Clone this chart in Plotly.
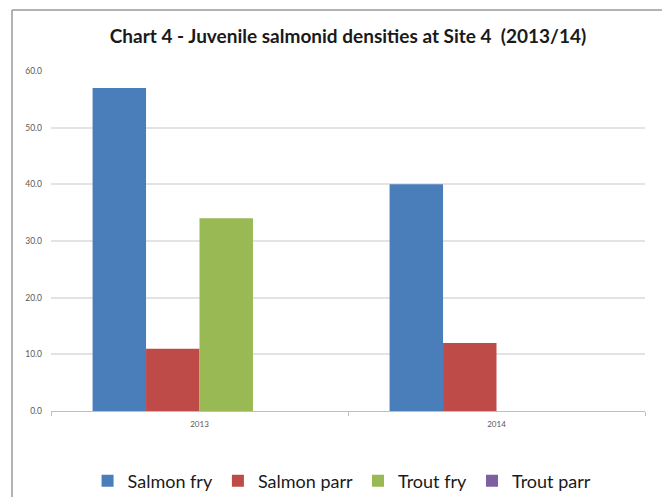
import plotly.graph_objects as go

# Survey years and juvenile densities per group
years = ["2013", "2014"]
salmon_fry = [57.0, 40.0]
salmon_parr = [11.0, 12.0]
trout_fry = [34.0, 0.0]
trout_parr = [0.0, 0.0]

series = [
    ("Salmon fry", salmon_fry, "#4A7EBB"),
    ("Salmon parr", salmon_parr, "#BE4B48"),
    ("Trout fry", trout_fry, "#98B954"),
    ("Trout parr", trout_parr, "#7D60A0"),
]

fig = go.Figure()
for name, vals, col in series:
    fig.add_trace(go.Bar(
        x=years, y=vals, name=name,
        marker=dict(color=col, line=dict(width=0)),
    ))

W, H = 662, 497
ml, mr, mt, mb = 51, 17, 71, 86
pw, ph = W - ml - mr, H - mt - mb

# outer chart frame (left and top edges)
fx = (12 - ml) / pw
fy = 1 + (mt - 10) / ph
frame = dict(color="#9a9a9a", width=1.5)
fig.add_shape(type="line", xref="paper", yref="paper", x0=fx, x1=fx, y0=-1, y1=fy, line=frame)
fig.add_shape(type="line", xref="paper", yref="paper", x0=fx, x1=1.5, y0=fy, y1=fy, line=frame)

fig.update_layout(
    width=W, height=H,
    margin=dict(l=ml, r=mr, t=mt, b=mb, autoexpand=False),
    paper_bgcolor="white", plot_bgcolor="white",
    barmode="group", bargap=0.28, bargroupgap=0,
    title=dict(
        text="Chart 4 - Juvenile salmonid densities at Site 4  (2013/14)",
        x=348 / W, xanchor="center", y=1 - 36 / H, yanchor="middle",
        font=dict(family="Lato", size=19, color="#1a1a1a", weight="bold"),
    ),
    font=dict(family="Lato", color="#595959"),
    showlegend=True,
    legend=dict(
        orientation="h", x=0.49, xanchor="center", y=(411 - 481) / ph, yanchor="middle",
        font=dict(family="Lato", size=18, color="#1a1a1a"),
        traceorder="normal", itemwidth=30,
    ),
    xaxis=dict(
        type="category", showgrid=False, showline=True, linecolor="#bfbfbf", linewidth=1,
        ticks="outside", tickson="boundaries", ticklen=4, tickcolor="#bfbfbf",
        ticklabelstandoff=5,
        tickfont=dict(size=8, color="#595959"),
    ),
    yaxis=dict(
        range=[0, 60], dtick=10, tickformat=".1f",
        showgrid=True, gridcolor="#e3e3e3", gridwidth=1.5,
        zeroline=True, zerolinecolor="#d0d0d0", zerolinewidth=1,
        showline=False, ticks="", ticklabelstandoff=8,
        tickfont=dict(size=8.5, color="#595959"),
    ),
)

fig.write_html("out.html")
